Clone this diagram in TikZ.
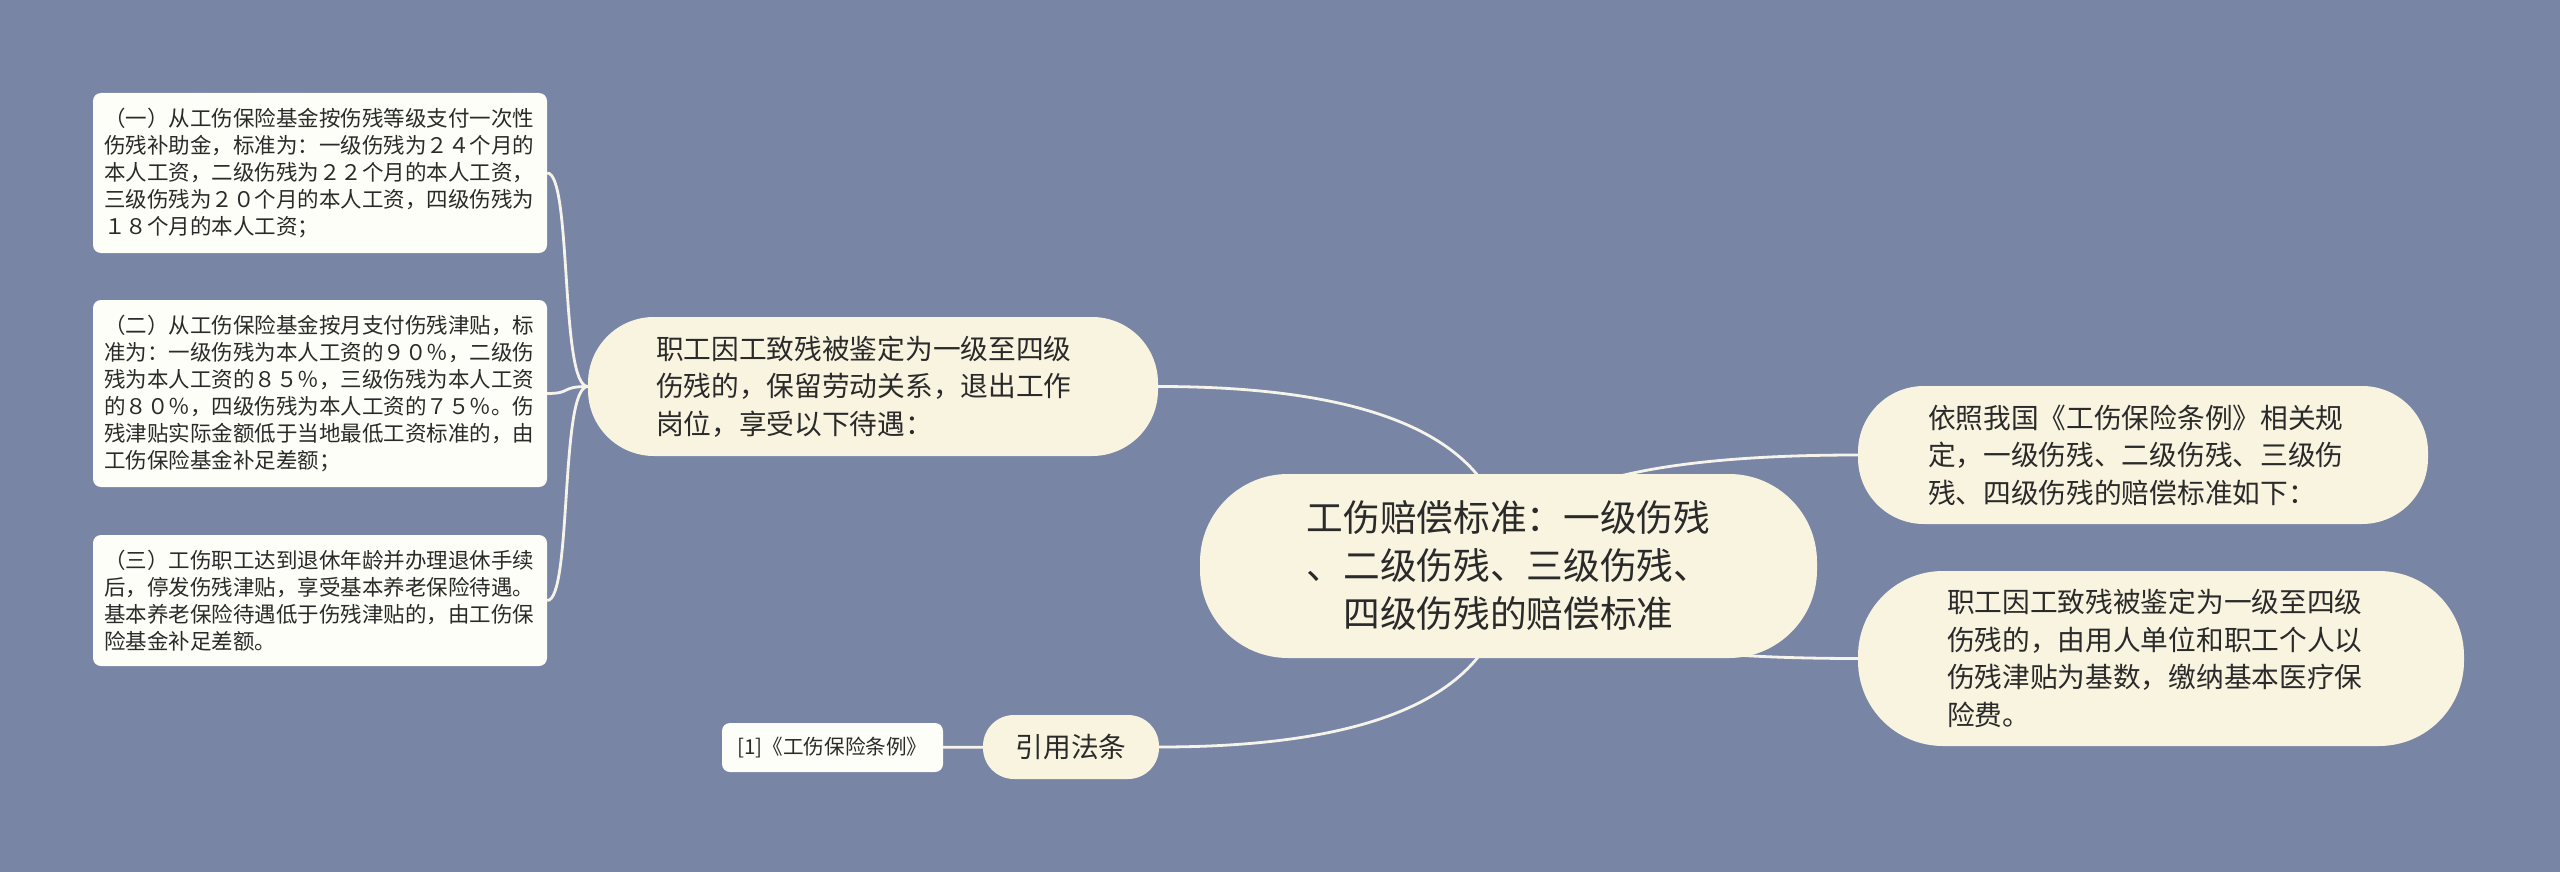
\documentclass[tikz,border=0pt]{standalone}
\usepackage{fontspec}
\setmainfont{Noto Sans CJK SC}
\usetikzlibrary{calc}

\definecolor{slate}{HTML}{7885A5}
\definecolor{cream}{HTML}{F8F4E0}
\definecolor{paper}{HTML}{FEFEF8}
\definecolor{ink}{HTML}{2A2A2A}
\definecolor{wire}{HTML}{F6F4EA}

\pgfdeclarelayer{backdrop}
\pgfdeclarelayer{links}
\pgfsetlayers{backdrop,links,main}

\tikzset{
  hubnode/.style={fill=cream, text=ink, rounded corners=88pt, minimum width=617pt,
    minimum height=184pt, inner sep=0pt, align=center, font=\fontsize{36.7}{48}\selectfont},
  branch/.style={fill=cream, text=ink, align=left, inner ysep=0pt,
    font=\fontsize{27.7}{37.5}\selectfont},
  leaf/.style={fill=paper, text=ink, rounded corners=8pt, align=left, inner xsep=11pt,
    inner ysep=0pt, text width=432pt, minimum width=454pt, font=\fontsize{21.5}{27}\selectfont},
  link/.style={draw=wire, line width=2.8pt},
}

\begin{document}
\begin{tikzpicture}[x=1pt,y=-1pt]
    \begin{pgfonlayer}{backdrop}
      \fill[slate] (0,0) rectangle (2560,872);
    \end{pgfonlayer}

    % centre
    \node[hubnode] (hub) at (1508.5,566)
      {工伤赔偿标准：一级伤残\\、二级伤残、三级伤残、\\四级伤残的赔偿标准};

    % first level
    \node[branch, rounded corners=66pt, minimum width=570pt, minimum height=139pt,
      text width=434pt, inner xsep=68pt] (retain) at (873,386.5)
      {职工因工致残被鉴定为一级至四级\\伤残的，保留劳动关系，退出工作\\岗位，享受以下待遇：};
    \node[branch, rounded corners=66pt, minimum width=570pt, minimum height=138pt,
      text width=430pt, inner xsep=70pt] (rule) at (2143,455)
      {依照我国《工伤保险条例》相关规\\定，一级伤残、二级伤残、三级伤\\残、四级伤残的赔偿标准如下：};
    \node[branch, rounded corners=85pt, minimum width=606pt, minimum height=175pt,
      text width=428pt, inner xsep=89pt] (medical) at (2161,658.5)
      {职工因工致残被鉴定为一级至四级\\伤残的，由用人单位和职工个人以\\伤残津贴为基数，缴纳基本医疗保\\险费。};
    \node[branch, rounded corners=31pt, minimum width=176pt, minimum height=64pt,
      align=center, inner xsep=0pt] (cite) at (1071,747) {引用法条};

    % leaves
    \node[leaf, minimum height=160pt] (grant) at (320,173)
      {（一）从工伤保险基金按伤残等级支付一次性\\伤残补助金，标准为：一级伤残为２４个月的\\本人工资，二级伤残为２２个月的本人工资，\\三级伤残为２０个月的本人工资，四级伤残为\\１８个月的本人工资；};
    \node[leaf, minimum height=187pt] (allowance) at (320,393.5)
      {（二）从工伤保险基金按月支付伤残津贴，标\\准为：一级伤残为本人工资的９０％，二级伤\\残为本人工资的８５％，三级伤残为本人工资\\的８０％，四级伤残为本人工资的７５％。伤\\残津贴实际金额低于当地最低工资标准的，由\\工伤保险基金补足差额；};
    \node[leaf, minimum height=131pt] (pension) at (320,600.5)
      {（三）工伤职工达到退休年龄并办理退休手续\\后，停发伤残津贴，享受基本养老保险待遇。\\基本养老保险待遇低于伤残津贴的，由工伤保\\险基金补足差额。};
    \node[fill=paper, text=ink, rounded corners=8pt, minimum width=221pt, minimum height=49pt,
      inner sep=0pt, font=\fontsize{20.6}{25}\selectfont] (law) at (832.5,747.5)
      {[1]《工伤保险条例》};

    \begin{pgfonlayer}{links}
      % hub to first level
      \foreach \kid in {retain.east, rule.west, medical.west, cite.east}
        \draw[link] (\kid) .. controls ($(\kid)!2/3!(\kid -| hub.center)$)
          and ($(hub.center)!2/3!(\kid -| hub.center)$) .. (hub.center);
      % bracket to the leaves
      \foreach \kid in {grant, allowance, pension}
        \draw[link] (retain.west) .. controls +(-28,0)
          and ($(\kid.east)+(25,0)$) .. (\kid.east);
      \draw[link] (law) -- (cite);
    \end{pgfonlayer}
  \end{tikzpicture}
\end{document}
